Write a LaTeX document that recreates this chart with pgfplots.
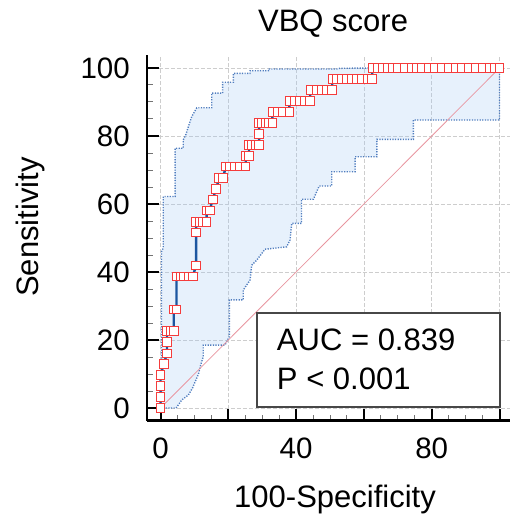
\documentclass[border=0pt]{standalone}
\usepackage{fontspec}
\setmainfont{Liberation Sans}
\usepackage{pgfplots}
\pgfplotsset{compat=1.18}
\usepgfplotslibrary{fillbetween}

\definecolor{rocline}{RGB}{28,86,160}
\definecolor{bandline}{RGB}{80,125,190}
\definecolor{bandfill}{RGB}{160,200,245}
\definecolor{markred}{RGB}{245,60,60}
\definecolor{diag}{RGB}{232,150,160}
\definecolor{gridc}{RGB}{205,205,205}

\newcommand{\ticksize}{\fontsize{29.5bp}{34bp}\selectfont}
\newcommand{\labsize}{\fontsize{31bp}{37bp}\selectfont}

\begin{document}
\begin{tikzpicture}
\begin{axis}[
  x=3.39bp, y=3.4bp,
  xmin=-4, xmax=103.1, ymin=-3.7, ymax=103.8,
  axis x line*=bottom, axis y line*=left,
  axis line style={line width=2.5bp, black},
  xtick={0,20,...,100}, xticklabels={0,,40,,80,},
  ytick={0,20,...,100},
  minor tick num=3,
  tick align=inside,
  major tick length=12bp, minor tick length=6bp,
  major tick style={line width=2bp, black},
  minor tick style={line width=1bp, black!55},
  grid=major,
  major grid style={gridc, line width=0.7bp, dash pattern=on 4bp off 2bp},
  /pgf/number format/assume math mode=true,
  ticklabel style={font=\ticksize},
  xticklabel style={anchor=north, inner sep=0pt, yshift=-17bp},
  yticklabel style={anchor=east, inner sep=0pt, xshift=-17bp},
  title={VBQ score},
  title style={font=\labsize, at={(axis description cs:0.5126,1.0493)}, anchor=base, inner sep=0pt},
  xlabel={100-Specificity},
  xlabel style={font=\labsize, at={(axis description cs:0.518,-0.2372)}, anchor=base, inner sep=0pt},
  ylabel={Sensitivity},
  ylabel style={font=\labsize, at={(axis description cs:-0.2988,0.5293)}, anchor=base, inner sep=0pt},
  clip mode=individual,
]
% confidence band
\addplot[name path=up, bandline, line width=1.4bp, dash pattern=on 1.2bp off 1.4bp] coordinates {
(0,0) (0.3,4) (0.3,46) (0.8,47) (0.8,62.2) (4.3,62.2) (4.3,76.4) (6.7,76.4) (6.7,78.8)
(7.5,80.5) (8.3,83) (9.2,85.7) (10.7,88.3) (15.1,88.3) (15.1,92.6) (18.3,92.6) (18.3,95.8)
(21.5,95.8) (21.5,98.4) (26.4,98.4) (26.4,99.2) (31.8,99.2) (31.8,99.7) (52,99.7)
(52.5,99.9) (62,100) (100,100)
};
\addplot[name path=lo, bandline, line width=1.4bp, dash pattern=on 1.2bp off 1.4bp] coordinates {
(0,0) (4.6,0) (6.3,2.4) (8.2,3.8) (9.5,6) (10.2,7.7) (11.2,10) (11.7,12.1) (12.6,15.1)
(12.6,18.5) (19,18.5) (20.3,21) (20.3,31.8) (24.4,31.8) (24.4,34.7) (26.4,37.6) (26.9,42)
(28.4,43.5) (30.8,46.7) (37.2,47.4) (38.2,49.4) (38.7,54.3) (41.6,54.3) (41.6,61.4)
(45.1,61.4) (46.8,65.3) (50.5,65.3) (50.5,69.5) (57.4,69.5) (57.4,73.9) (63.8,73.9)
(63.8,79) (74.6,79) (74.6,84.7) (100,84.7) (100,100)
};
\addplot[bandfill, fill opacity=0.25, draw=none] fill between[of=up and lo];
% reference line
\addplot[diag, line width=0.8bp] coordinates {(0,0) (100,100)};
% ROC curve
\addplot[rocline, line width=2.4bp, mark=square*, mark size=4.3bp,
  mark options={solid, draw=markred, fill=white, line width=0.9bp}] coordinates {
(0,0) (0,3.2) (0,6.5) (0,9.7) (1.0,12.9) (1.9,16.1) (1.9,19.4) (1.9,22.6) (2.9,22.6)
(3.9,22.6) (3.9,29.0) (4.7,29.0) (4.7,38.7) (5.9,38.7) (7.0,38.7) (8.2,38.7) (9.5,38.7)
(10.5,41.9) (10.5,51.6) (10.5,54.8) (11.5,54.8) (12.5,54.8) (13.6,54.8) (13.6,58.1)
(14.5,58.1) (15.4,61.3) (16.4,64.5) (17.3,67.7) (18.4,67.7) (19.3,71.0) (20.5,71.0)
(21.8,71.0) (23.3,71.0) (25.1,71.0) (25.2,74.2) (26.1,74.2) (26.1,77.4) (27.0,77.4)
(28.0,77.4) (29.1,77.4) (29.1,80.6) (29.1,83.9) (30.0,83.9) (31.0,83.9) (32.0,83.9)
(33.0,83.9) (33.0,87.1) (34.5,87.1) (36.0,87.1) (38.0,87.1) (38.0,90.3) (39.5,90.3)
(41.0,90.3) (42.5,90.3) (44.0,90.3) (44.3,93.5) (46.0,93.5) (47.5,93.5) (49.0,93.5)
(50.5,93.5) (50.8,96.8) (52.0,96.8) (53.5,96.8) (55.0,96.8) (56.5,96.8) (58.0,96.8)
(59.5,96.8) (61.0,96.8) (62.3,96.8) (62.6,100) (64,100) (65.5,100) (67,100) (68.5,100)
(70,100) (72,100) (74,100) (75.5,100) (77,100) (79,100) (81,100) (83,100) (85,100)
(87,100) (89,100) (91,100) (93,100) (95,100) (97,100) (98.5,100) (100,100)
};
% AUC box
\draw[fill=white, draw=black!72, line width=2bp] (axis cs:28.6,0.2) rectangle (axis cs:100,27.9);
\node[anchor=base west, inner sep=0pt, font=\labsize] at (axis cs:34.3,16.85) {AUC = 0.839};
\node[anchor=base west, inner sep=0pt, font=\labsize] at (axis cs:34.3,5.5) {P < 0.001};
\coordinate (bbl) at (axis cs:-47.35,-32.35);
\coordinate (btr) at (axis cs:103.39,120);
\end{axis}
\pgfresetboundingbox
\useasboundingbox (bbl) rectangle (btr);
\end{tikzpicture}
\end{document}
